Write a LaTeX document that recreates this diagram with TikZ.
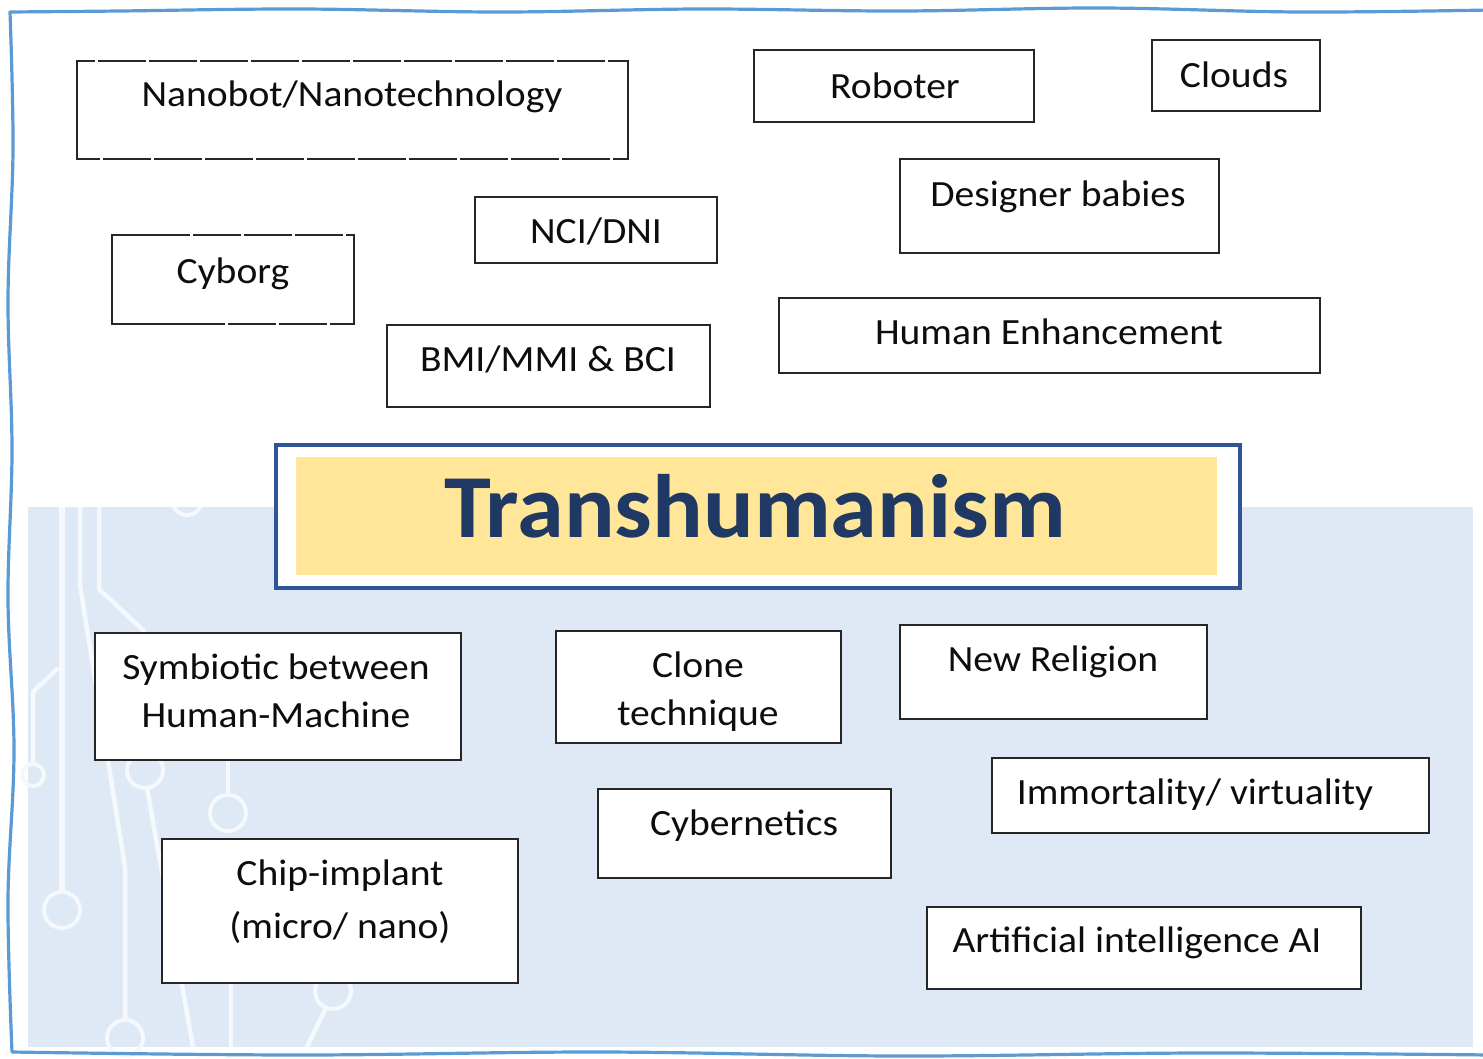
\documentclass[tikz,border=0pt]{standalone}
\usepackage{fontspec}
\setmainfont{Carlito}
\newfontfamily\boxfont[FakeStretch=1.07]{Carlito}
\newfontfamily\ttlfont[FakeStretch=1.05]{Carlito}
\usetikzlibrary{fit}
\definecolor{bgblue}{HTML}{DEE9F5}
\definecolor{brdblue}{HTML}{5B9BD5}
\definecolor{navy}{HTML}{203864}
\definecolor{ttlblue}{HTML}{2F5597}
\definecolor{ttlyellow}{HTML}{FFE699}
\definecolor{circ}{HTML}{F5F8FC}
\definecolor{boxline}{HTML}{262626}
\tikzset{
  boxsty/.style={draw=boxline, line width=1.4pt, fill=white, inner sep=0pt, rectangle},
  lbl/.style={anchor=base, inner sep=0pt, text=black!95, font=\boxfont\fontsize{37}{44}\selectfont},
  wire/.style={draw=circ, line width=4.5pt},
  pad/.style={draw=circ, line width=4pt},
  gapdash/.style={draw=white, line width=2pt, dash pattern=on 3pt off 48pt}
}
\begin{document}
\begin{tikzpicture}[x=1pt,y=-1pt]
\useasboundingbox (0,0) rectangle (1483,1058);
% blue lower panel
\fill[bgblue] (28,507) rectangle (1473,1047);
% circuit decoration
\draw[wire, line width=6pt] (62,507) -- (62,892);
\draw[pad] (62,910) circle (18);
\draw[wire] (58,668) -- (33,692) -- (33,764);
\draw[pad] (33,775) circle (11);
\draw[wire] (80,507) -- (80,585) -- (125,867) -- (125,1020);
\draw[pad] (125,1038) circle (18);
\draw[wire] (99,507) -- (99,589) -- (145,632);
\draw[wire] (147,788) -- (193,1047);
\draw[pad] (145,770) circle (18);
\draw[wire] (228,760) -- (228,795);
\draw[pad] (228,813) circle (18);
\draw[wire] (231,975) -- (231,1047);
\draw[pad] (333,991) circle (18);
\draw[wire] (326,1008) -- (307,1047);
\begin{scope}
\clip (28,507) rectangle (1473,1047);
\draw[pad] (187,500) circle (15);
\end{scope}
% wavy border
\draw[brdblue, line width=3.2pt, line join=round]
  plot[smooth, tension=0.6] coordinates {(1490,10) (1300,12) (1100,8) (900,11) (700,9) (500,12) (300,9) (120,11) (10,12)}
  -- plot[smooth, tension=0.6] coordinates {(10,12) (13,150) (8,300) (12,450) (8,600) (14,750) (8,900) (12,1052)}
  -- plot[smooth, tension=0.6] coordinates {(12,1052) (300,1055) (600,1052) (900,1056) (1200,1053) (1490,1055)};
% top boxes
\node[boxsty, fit={(77,61)(628,159)}] (nano) {};
\draw[gapdash] (95,61) -- (628,61);
\draw[gapdash] (100,159) -- (628,159);
\node[lbl] (nanot) at (352,106) {Nanobot/Nanotechnology};
\node[boxsty, fit={(754,50)(1034,122)}] (robo) {};
\node[lbl] (robot) at (895,98) {Roboter};
\node[boxsty, fit={(1152,40)(1320,111)}] (cloud) {};
\node[lbl] (cloudt) at (1234,87) {Clouds};
\node[boxsty, fit={(900,159)(1219,253)}] (design) {};
\node[lbl] (designt) at (1058,206) {Designer babies};
\node[boxsty, fit={(475,197)(717,263)}] (nci) {};
\node[lbl] (ncit) at (596,243) {NCI/DNI};
\node[boxsty, fit={(112,235)(354,324)}] (cyb) {};
\draw[gapdash] (190,235) -- (354,235);
\draw[gapdash] (225,324) -- (354,324);
\node[lbl] (cybt) at (233,283) {Cyborg};
\node[boxsty, fit={(387,325)(710,407)}] (bmi) {};
\node[lbl] (bmit) at (548,371) {BMI/MMI \& BCI};
\node[boxsty, fit={(779,298)(1320,373)}] (human) {};
\node[lbl] (humant) at (1049,344) {Human Enhancement};
% title
\node[draw=ttlblue, line width=3.5pt, fill=white, inner sep=0pt, fit={(276,445)(1240,588)}] (ttlframe) {};
\node[fill=ttlyellow, inner sep=0pt, fit={(296,457)(1217,575)}] (ttlfill) {};
\node[anchor=base, inner sep=0pt, text=navy, font=\ttlfont\fontsize{90}{100}\selectfont\bfseries] (ttl) at (755,537) {Transhumanism};
% bottom boxes
\node[boxsty, fit={(95,633)(461,760)}] (sym) {};
\node[lbl] (sym1) at (276,679) {Symbiotic between};
\node[lbl] (sym2) at (276,727) {Human-Machine};
\node[boxsty, fit={(556,631)(841,743)}] (clone) {};
\node[lbl] (clone1) at (698,677) {Clone};
\node[lbl] (clone2) at (698,725) {technique};
\node[boxsty, fit={(900,625)(1207,719)}] (relig) {};
\node[lbl] (religt) at (1053,671) {New Religion};
\node[boxsty, fit={(992,758)(1429,833)}] (immo) {};
\node[lbl] (immot) at (1195,804) {Immortality/ virtuality};
\node[boxsty, fit={(598,789)(891,878)}] (cyber) {};
\node[lbl] (cybert) at (744,835) {Cybernetics};
\node[boxsty, fit={(162,839)(518,983)}] (chip) {};
\node[lbl] (chip1) at (340,885) {Chip-implant};
\node[lbl] (chip2) at (340,938) {(micro/ nano)};
\node[boxsty, fit={(927,907)(1361,989)}] (ai) {};
\node[lbl] (ait) at (1137,952) {Artificial intelligence AI};
\end{tikzpicture}
\end{document}
